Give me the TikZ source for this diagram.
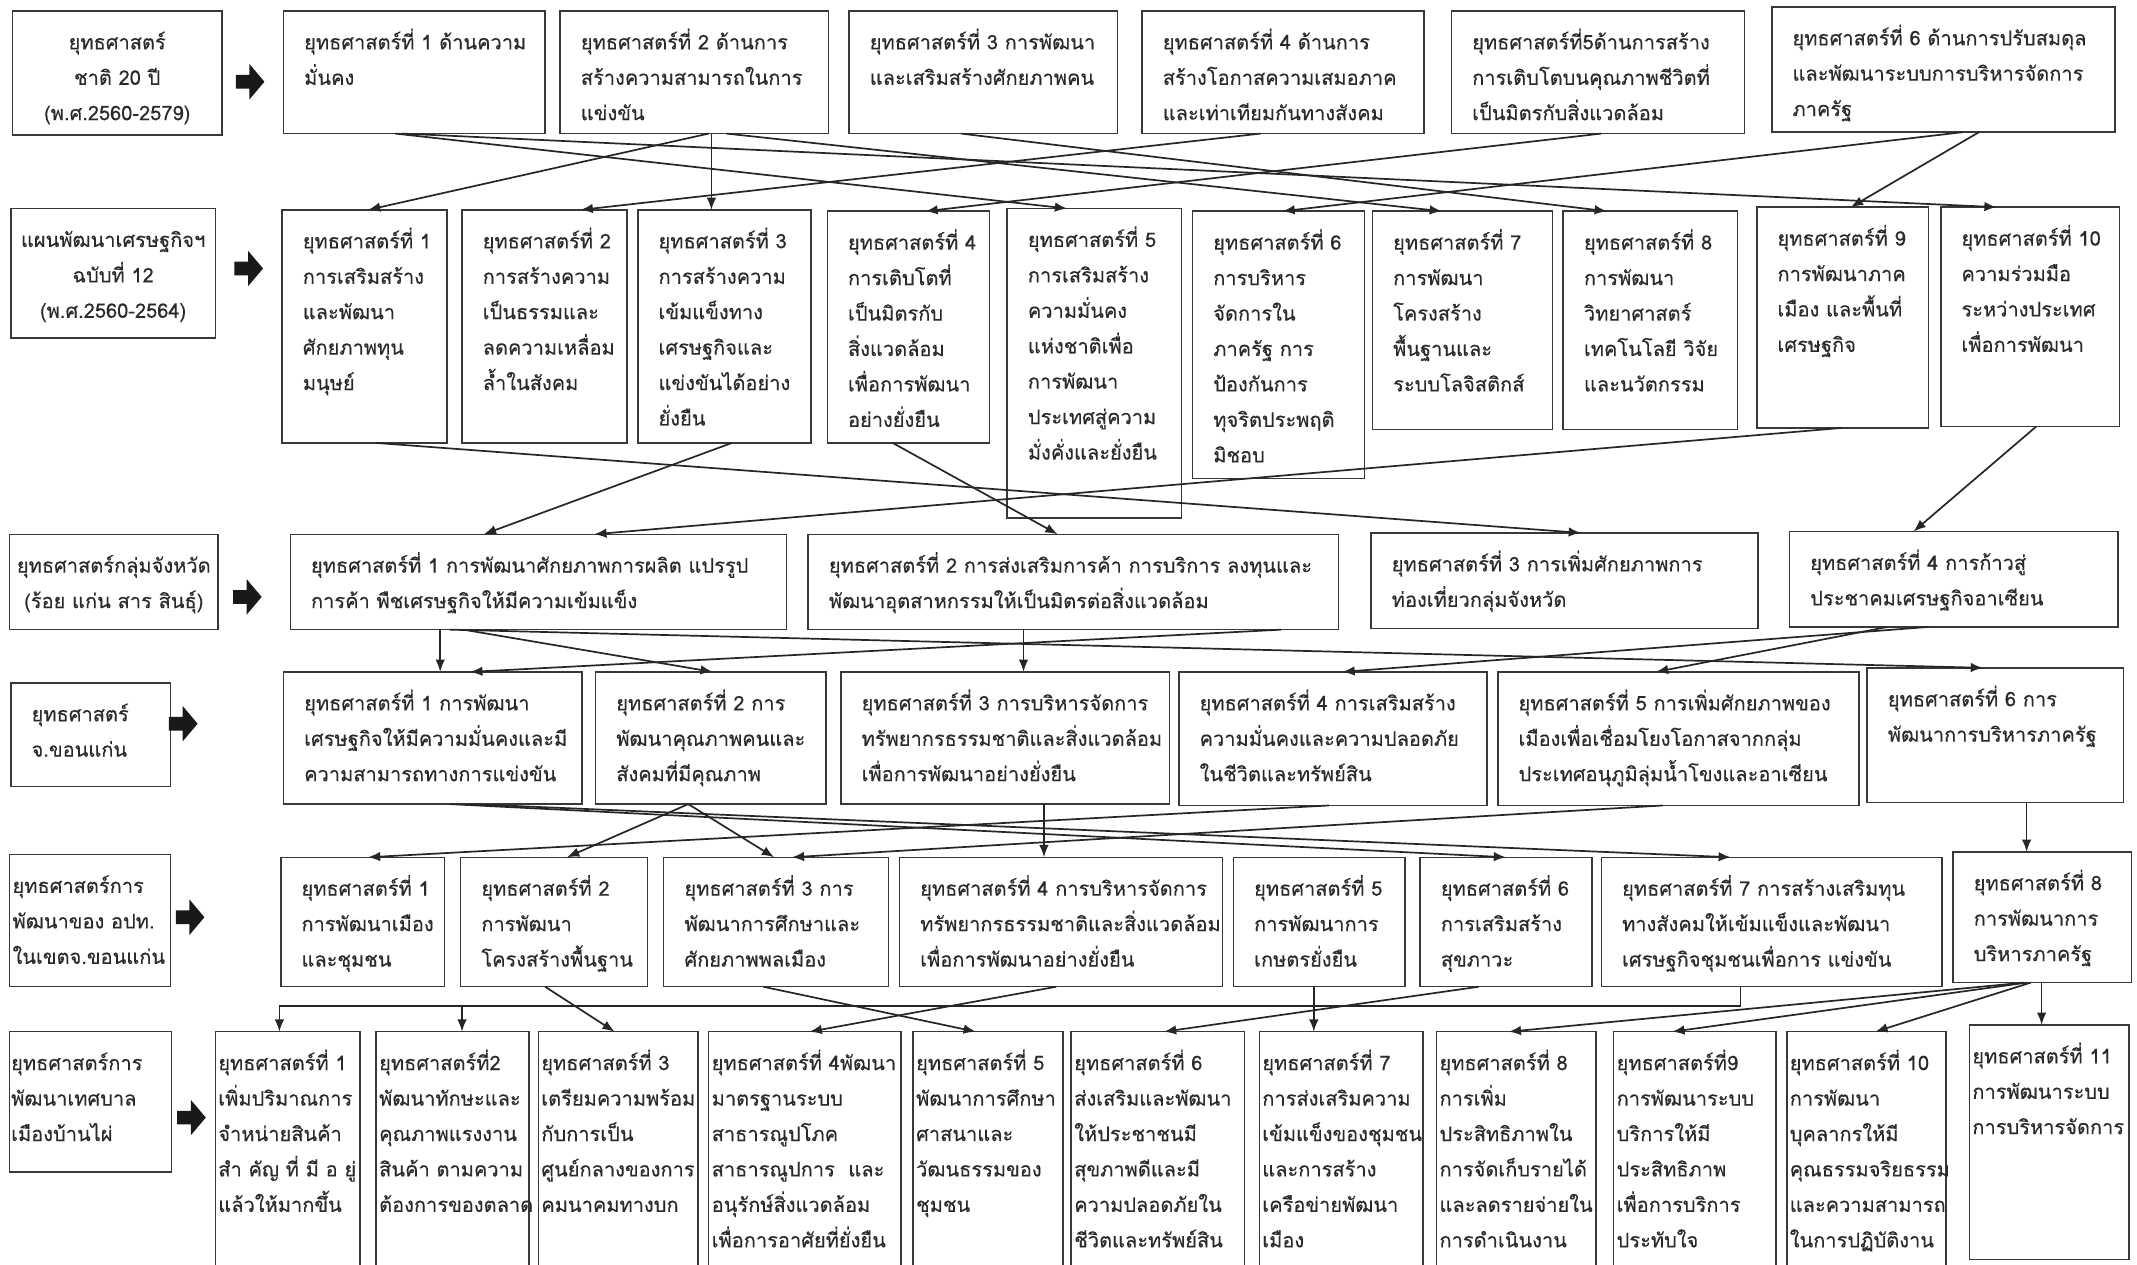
\documentclass[tikz,border=0pt]{standalone}
\usepackage{fontspec}
\setmainfont[Script=Thai,FakeBold=0.25]{Loma}
\usetikzlibrary{arrows.meta}
\definecolor{ink}{HTML}{2A2A2A}
\definecolor{edge}{HTML}{383838}
\newcommand\mystrut{\rule{0pt}{16pt}}
\tikzset{
  boxst/.style={draw=edge, line width=1.1pt, inner sep=0pt, outer sep=0pt, fill=white},
  txtst/.style={inner sep=0pt, align=left, text=ink, font=\fontsize{14.7}{26}\selectfont},
  conn/.style={draw=black!85, line width=1.25pt, -{Latex[length=9pt,width=7pt]}},
  plain/.style={draw=black!85, line width=1.25pt},
  bigarrow/.style={fill=black!90}
}
% optional pad, name, x1, y1, x2, y2, text
\newcommand\bx[7][15]{%
  \node[boxst, minimum width=#5pt-#3pt, minimum height=#6pt-#4pt, anchor=north west] (#2) at (#3,#4) {};
  \node[txtst, anchor=north west] (#2t) at ({#3+#1},{#4+12}) {\mystrut#7};}
% centered label box: name, x1, y1, x2, y2, text
\newcommand\lbx[6]{%
  \node[boxst, minimum width=#4pt-#2pt, minimum height=#5pt-#3pt, anchor=north west] (#1) at (#2,#3) {};
  \node[txtst, align=center, anchor=north] (#1t) at ({(#2+#4)/2},{#3+12}) {\mystrut#6};}
% thick block arrow at tail x, centre y
\newcommand\barrow[2]{%
  \fill[bigarrow] (#1,#2-5) -- (#1+10,#2-5) -- (#1+10,#2-13) -- (#1+21,#2) -- (#1+10,#2+13) -- (#1+10,#2+5) -- (#1,#2+5) -- cycle;}
\begin{document}
\begin{tikzpicture}[x=1pt,y=-1pt]
\useasboundingbox (0,0) rectangle (1568,928);
\fill[white] (0,0) rectangle (1568,928);

% ---------- row 1 ----------
\lbx{L1}{9}{8}{163}{99}{ยุทธศาสตร์\\ชาติ 20 ปี\\(พ.ศ.2560-2579)}
\barrow{173}{60}
\bx{A1}{208}{8}{400}{98}{ยุทธศาสตร์ที่ 1 ด้านความ\\มั่นคง}
\bx{A2}{411}{8}{608}{98}{ยุทธศาสตร์ที่ 2 ด้านการ\\สร้างความสามารถในการ\\แข่งขัน}
\bx{A3}{623}{8}{820}{98}{ยุทธศาสตร์ที่ 3 การพัฒนา\\และเสริมสร้างศักยภาพคน}
\bx{A4}{838}{8}{1045}{98}{ยุทธศาสตร์ที่ 4 ด้านการ\\สร้างโอกาสความเสมอภาค\\และเท่าเทียมกันทางสังคม}
\bx{A5}{1065}{8}{1280}{98}{ยุทธศาสตร์ที่5ด้านการสร้าง\\การเติบโตบนคุณภาพชีวิตที่\\เป็นมิตรกับสิ่งแวดล้อม}
\bx{A6}{1300}{5}{1552}{97}{ยุทธศาสตร์ที่ 6 ด้านการปรับสมดุล\\และพัฒนาระบบการบริหารจัดการ\\ภาครัฐ}

% ---------- row 2 ----------
\lbx{L2}{8}{153}{158}{248}{แผนพัฒนาเศรษฐกิจฯ\\ฉบับที่ 12\\(พ.ศ.2560-2564)}
\barrow{172}{197}
\bx{B1}{207}{154}{328}{325}{ยุทธศาสตร์ที่ 1\\การเสริมสร้าง\\และพัฒนา\\ศักยภาพทุน\\มนุษย์}
\bx{B2}{339}{154}{460}{325}{ยุทธศาสตร์ที่ 2\\การสร้างความ\\เป็นธรรมและ\\ลดความเหลื่อม\\ล้ำในสังคม}
\bx{B3}{468}{154}{595}{325}{ยุทธศาสตร์ที่ 3\\การสร้างความ\\เข้มแข็งทาง\\เศรษฐกิจและ\\แข่งขันได้อย่าง\\ยั่งยืน}
\bx{B4}{607}{155}{726}{325}{ยุทธศาสตร์ที่ 4\\การเติบโตที่\\เป็นมิตรกับ\\สิ่งแวดล้อม\\เพื่อการพัฒนา\\อย่างยั่งยืน}
\bx{B5}{739}{153}{867}{380}{ยุทธศาสตร์ที่ 5\\การเสริมสร้าง\\ความมั่นคง\\แห่งชาติเพื่อ\\การพัฒนา\\ประเทศสู่ความ\\มั่งคั่งและยั่งยืน}
\bx{B6}{875}{155}{1001}{351}{ยุทธศาสตร์ที่ 6\\การบริหาร\\จัดการใน\\ภาครัฐ การ\\ป้องกันการ\\ทุจริตประพฤติ\\มิชอบ}
\bx{B7}{1007}{155}{1139}{315}{ยุทธศาสตร์ที่ 7\\การพัฒนา\\โครงสร้าง\\พื้นฐานและ\\ระบบโลจิสติกส์}
\bx{B8}{1147}{155}{1275}{315}{ยุทธศาสตร์ที่ 8\\การพัฒนา\\วิทยาศาสตร์\\เทคโนโลยี วิจัย\\และนวัตกรรม}
\bx{B9}{1289}{152}{1415}{314}{ยุทธศาสตร์ที่ 9\\การพัฒนาภาค\\เมือง และพื้นที่\\เศรษฐกิจ}
\bx{B10}{1424}{152}{1555}{313}{ยุทธศาสตร์ที่ 10\\ความร่วมมือ\\ระหว่างประเทศ\\เพื่อการพัฒนา}

% ---------- row 3 ----------
\lbx{L3}{7}{392}{160}{462}{ยุทธศาสตร์กลุ่มจังหวัด\\(ร้อย แก่น สาร สินธุ์)}
\barrow{171}{438}
\bx{C1}{213}{392}{577}{462}{ยุทธศาสตร์ที่ 1 การพัฒนาศักยภาพการผลิต แปรรูป\\การค้า พืชเศรษฐกิจให้มีความเข้มแข็ง}
\bx{C2}{593}{392}{982}{462}{ยุทธศาสตร์ที่ 2 การส่งเสริมการค้า การบริการ ลงทุนและ\\พัฒนาอุตสาหกรรมให้เป็นมิตรต่อสิ่งแวดล้อม}
\bx{C3}{1006}{391}{1290}{461}{ยุทธศาสตร์ที่ 3 การเพิ่มศักยภาพการ\\ท่องเที่ยวกลุ่มจังหวัด}
\bx{C4}{1313}{390}{1554}{460}{ยุทธศาสตร์ที่ 4 การก้าวสู่\\ประชาคมเศรษฐกิจอาเซียน}

% ---------- row 4 ----------
\bx{L4}{8}{501}{125}{577}{ยุทธศาสตร์\\จ.ขอนแก่น}
\barrow{124}{531}
\bx{D1}{208}{493}{427}{590}{ยุทธศาสตร์ที่ 1 การพัฒนา\\เศรษฐกิจให้มีความมั่นคงและมี\\ความสามารถทางการแข่งขัน}
\bx{D2}{437}{493}{606}{590}{ยุทธศาสตร์ที่ 2 การ\\พัฒนาคุณภาพคนและ\\สังคมที่มีคุณภาพ}
\bx{D3}{617}{493}{858}{590}{ยุทธศาสตร์ที่ 3 การบริหารจัดการ\\ทรัพยากรธรรมชาติและสิ่งแวดล้อม\\เพื่อการพัฒนาอย่างยั่งยืน}
\bx{D4}{865}{493}{1091}{591}{ยุทธศาสตร์ที่ 4 การเสริมสร้าง\\ความมั่นคงและความปลอดภัย\\ในชีวิตและทรัพย์สิน}
\bx{D5}{1099}{493}{1364}{591}{ยุทธศาสตร์ที่ 5 การเพิ่มศักยภาพของ\\เมืองเพื่อเชื่อมโยงโอกาสจากกลุ่ม\\ประเทศอนุภูมิลุ่มน้ำโขงและอาเซียน}
\bx{D6}{1370}{490}{1558}{589}{ยุทธศาสตร์ที่ 6 การ\\พัฒนาการบริหารภาครัฐ}

% ---------- row 5 ----------
\bx[2]{L5}{7}{627}{125}{724}{ยุทธศาสตร์การ\\พัฒนาของ อปท.\\ในเขตจ.ขอนแก่น}
\barrow{129}{673}
\bx{E1}{206}{629}{326}{724}{ยุทธศาสตร์ที่ 1\\การพัฒนาเมือง\\และชุมชน}
\bx{E2}{338}{629}{475}{724}{ยุทธศาสตร์ที่ 2\\การพัฒนา\\โครงสร้างพื้นฐาน}
\bx{E3}{487}{629}{652}{724}{ยุทธศาสตร์ที่ 3 การ\\พัฒนาการศึกษาและ\\ศักยภาพพลเมือง}
\bx{E4}{660}{629}{897}{724}{ยุทธศาสตร์ที่ 4 การบริหารจัดการ\\ทรัพยากรธรรมชาติและสิ่งแวดล้อม\\เพื่อการพัฒนาอย่างยั่งยืน}
\bx{E5}{905}{629}{1031}{724}{ยุทธศาสตร์ที่ 5\\การพัฒนาการ\\เกษตรยั่งยืน}
\bx{E6}{1042}{629}{1168}{724}{ยุทธศาสตร์ที่ 6\\การเสริมสร้าง\\สุขภาวะ}
\bx{E7}{1175}{629}{1425}{724}{ยุทธศาสตร์ที่ 7 การสร้างเสริมทุน\\ทางสังคมให้เข้มแข็งและพัฒนา\\เศรษฐกิจชุมชนเพื่อการ แข่งขัน}
\bx{E8}{1433}{625}{1564}{721}{ยุทธศาสตร์ที่ 8\\การพัฒนาการ\\บริหารภาครัฐ}

% ---------- row 6 ----------
\bx[1]{L6}{7}{757}{126}{860}{ยุทธศาสตร์การ\\พัฒนาเทศบาล\\เมืองบ้านไผ่}
\barrow{130}{820}
\bx[2]{F1}{158}{757}{264}{940}{ยุทธศาสตร์ที่ 1\\เพิ่มปริมาณการ\\จำหน่ายสินค้า\\สำ คัญ ที่ มี อ ยู่\\แล้วให้มากขึ้น}
\bx[2]{F2}{276}{757}{388}{940}{ยุทธศาสตร์ที่2\\พัฒนาทักษะและ\\คุณภาพแรงงาน\\สินค้า ตามความ\\ต้องการของตลาด}
\bx[2]{F3}{395}{757}{512}{940}{ยุทธศาสตร์ที่ 3\\เตรียมความพร้อม\\กับการเป็น\\ศูนย์กลางของการ\\คมนาคมทางบก}
\bx[2]{F4}{520}{757}{661}{940}{ยุทธศาสตร์ที่ 4พัฒนา\\มาตรฐานระบบ\\สาธารณูปโภค\\สาธารณูปการ~ และ\\อนุรักษ์สิ่งแวดล้อม\\เพื่อการอาศัยที่ยั่งยืน}
\bx[2]{F5}{670}{757}{780}{940}{ยุทธศาสตร์ที่ 5\\พัฒนาการศึกษา\\ศาสนาและ\\วัฒนธรรมของ\\ชุมชน}
\bx[2]{F6}{786}{757}{913}{940}{ยุทธศาสตร์ที่ 6\\ส่งเสริมและพัฒนา\\ให้ประชาชนมี\\สุขภาพดีและมี\\ความปลอดภัยใน\\ชีวิตและทรัพย์สิน}
\bx[2]{F7}{924}{757}{1044}{940}{ยุทธศาสตร์ที่ 7\\การส่งเสริมความ\\เข้มแข็งของชุมชน\\และการสร้าง\\เครือข่ายพัฒนา\\เมือง}
\bx[2]{F8}{1054}{757}{1171}{940}{ยุทธศาสตร์ที่ 8\\การเพิ่ม\\ประสิทธิภาพใน\\การจัดเก็บรายได้\\และลดรายจ่ายใน\\การดำเนินงาน}
\bx[2]{F9}{1184}{757}{1303}{940}{ยุทธศาสตร์ที่9\\การพัฒนาระบบ\\บริการให้มี\\ประสิทธิภาพ\\เพื่อการบริการ\\ประทับใจ}
\bx[2]{F10}{1311}{757}{1428}{940}{ยุทธศาสตร์ที่ 10\\การพัฒนา\\บุคลากรให้มี\\คุณธรรมจริยธรรม\\และความสามารถ\\ในการปฏิบัติงาน}
\bx[2]{F11}{1445}{752}{1562}{924}{ยุทธศาสตร์ที่ 11\\การพัฒนาระบบ\\การบริหารจัดการ}

% ---------- connectors row 1 -> row 2 ----------
\draw[conn] ([xshift=82pt]A1.south west) -- ([xshift=44pt]B5.north west);
\draw[conn] ([xshift=87pt]A1.south west) -- ([xshift=41pt]B10.north west);
\draw[conn] ([xshift=109pt]A2.south west) -- ([xshift=63pt]B1.north west);
\draw[conn] ([xshift=111pt]A2.south west) -- ([xshift=54pt]B3.north west);
\draw[conn] ([xshift=122pt]A2.south west) -- ([xshift=51pt]B7.north west);
\draw[conn] ([xshift=82pt]A3.south west) -- ([xshift=32pt]B8.north west);
\draw[conn] ([xshift=87pt]A4.south west) -- ([xshift=87pt]B2.north west);
\draw[conn] ([xshift=110pt]A5.south west) -- ([xshift=72pt]B4.north west);
\draw[conn] ([xshift=140pt]A6.south west) -- ([xshift=66pt]B6.north west);
\draw[conn] ([xshift=152pt]A6.south west) -- ([xshift=69pt]B9.north west);

% ---------- row 2 -> row 3 ----------
\draw[conn] ([xshift=69pt]B1.south west) -- ([xshift=154pt]C3.north west);
\draw[conn] ([xshift=69pt]B3.south west) -- ([xshift=142pt]C1.north west);
\draw[conn] ([xshift=48pt]B4.south west) -- ([xshift=183pt]C2.north west);
\draw[conn] ([xshift=62pt]B9.south west) -- ([xshift=223pt]C1.north west);
\draw[conn] ([xshift=70pt]B10.south west) -- ([xshift=91pt]C4.north west);

% ---------- row 3 -> row 4 ----------
\draw[conn] ([xshift=110pt]C1.south west) -- ([xshift=115pt]D1.north west);
\draw[conn] ([xshift=127pt]C1.south west) -- ([xshift=86pt]D2.north west);
\draw[conn] ([xshift=117pt]C1.south west) -- ([xshift=85pt]D6.north west);
\draw[conn] ([xshift=347pt]C2.south west) -- ([xshift=137pt]D1.north west);
\draw[conn] ([xshift=158pt]C2.south west) -- ([xshift=134pt]D3.north west);
\draw[conn] ([xshift=102pt]C4.south west) -- ([xshift=120pt]D4.north west);
\draw[conn] ([xshift=72pt]C4.south west) -- ([xshift=116pt]D5.north west);

% ---------- row 4 -> row 5 ----------
\draw[conn] ([xshift=122pt]D1.south west) -- ([xshift=63pt]E6.north west);
\draw[conn] ([xshift=137pt]D1.south west) -- ([xshift=95pt]E7.north west);
\draw[conn] ([xshift=68pt]D2.south west) -- ([xshift=78pt]E2.north west);
\draw[conn] ([xshift=68pt]D2.south west) -- ([xshift=81pt]E3.north west);
\draw[conn] ([xshift=149pt]D3.south west) -- ([xshift=106pt]E4.north west);
\draw[conn] ([xshift=110pt]D4.south west) -- ([xshift=64pt]E1.north west);
\draw[conn] ([xshift=121pt]D5.south west) -- ([xshift=94pt]E3.north west);
\draw[conn] ([xshift=117pt]D6.south west) -- ([xshift=54pt]E8.north west);

% ---------- row 5 -> row 6 ----------
\coordinate (bus7) at (1277,738);
\coordinate (bus1) at (205,738);
\coordinate (bus2) at (339,738);
\draw[plain] ([xshift=102pt]E7.south west) -- (bus7) -- (bus1);
\draw[conn] (bus1) -- ([xshift=47pt]F1.north west);
\draw[conn] (bus2) -- ([xshift=63pt]F2.north west);
\draw[conn] ([xshift=62pt]E2.south west) -- ([xshift=56pt]F3.north west);
\draw[conn] ([xshift=115pt]E4.south west) -- ([xshift=74pt]F4.north west);
\draw[conn] ([xshift=73pt]E3.south west) -- ([xshift=46pt]F5.north west);
\draw[conn] ([xshift=43pt]E6.south west) -- ([xshift=68pt]F6.north west);
\draw[conn] ([xshift=59pt]E5.south west) -- ([xshift=40pt]F7.north west);
\draw[conn] ([xshift=52pt]E8.south west) -- ([xshift=53pt]F8.north west);
\draw[conn] ([xshift=54pt]E8.south west) -- ([xshift=43pt]F9.north west);
\draw[conn] ([xshift=57pt]E8.south west) -- ([xshift=65pt]F10.north west);
\draw[conn] ([xshift=65pt]E8.south west) -- ([xshift=53pt]F11.north west);
\end{tikzpicture}
\end{document}
